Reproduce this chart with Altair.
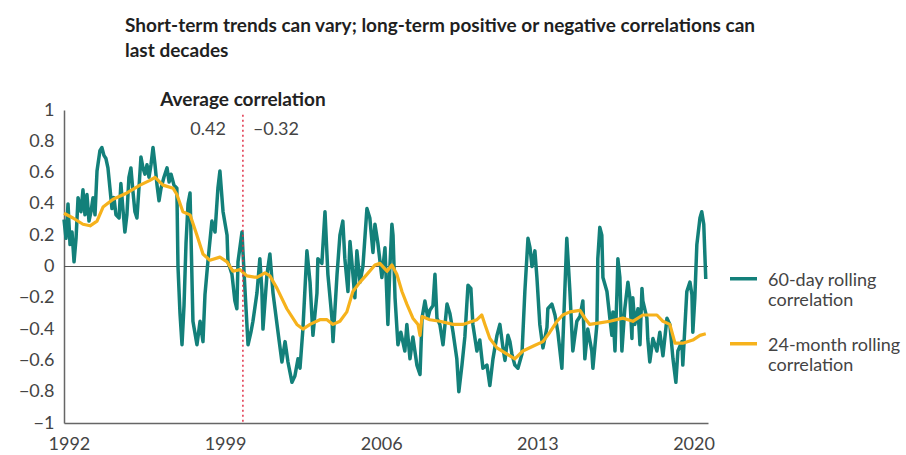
import altair as alt
import pandas as pd

TITLE_LINES = [
    "Short-term trends can vary; long-term positive or negative correlations can",
    "last decades",
]
SERIES = ["60-day rolling correlation", "24-month rolling correlation"]
COLORS = ["#13807a", "#f6b21c"]
X_TICKS = [1992, 1999, 2006, 2013, 2020]
Y_TICKS = [-1, -0.8, -0.6, -0.4, -0.2, 0, 0.2, 0.4, 0.6, 0.8, 1]
X_DOMAIN = [1991.78, 2020.65]

ANNOT_HEADER = "Average correlation"
SPLIT_YEAR = 1999.8
AVG_BEFORE = 0.42
AVG_AFTER = -0.32

day60_year = [
    1991.78, 1991.87, 1991.96, 1992.05, 1992.14, 1992.23, 1992.32, 1992.41, 1992.54, 1992.63,
    1992.72, 1992.81, 1992.90, 1992.99, 1993.08, 1993.17, 1993.26, 1993.39, 1993.48, 1993.57,
    1993.66, 1993.75, 1993.84, 1993.93, 1994.02, 1994.11, 1994.25, 1994.33, 1994.42, 1994.51,
    1994.60, 1994.69, 1994.78, 1994.87, 1994.96, 1995.05, 1995.14, 1995.23, 1995.32, 1995.41,
    1995.50, 1995.59, 1995.68, 1995.77, 1995.86, 1995.95, 1996.04, 1996.13, 1996.26, 1996.40,
    1996.49, 1996.58, 1996.71, 1996.84, 1996.89, 1996.98, 1997.07, 1997.16, 1997.25, 1997.34,
    1997.43, 1997.56, 1997.74, 1997.88, 1998.01, 1998.10, 1998.23, 1998.41, 1998.55, 1998.68,
    1998.77, 1998.91, 1999.09, 1999.13, 1999.31, 1999.44, 1999.53, 1999.58, 1999.76, 1999.80,
    1999.89, 2000.03, 2000.16, 2000.25, 2000.43, 2000.56, 2000.65, 2000.70, 2000.88, 2001.01,
    2001.15, 2001.33, 2001.42, 2001.55, 2001.69, 2001.82, 2002.00, 2002.13, 2002.27, 2002.36,
    2002.49, 2002.67, 2002.81, 2002.94, 2003.12, 2003.16, 2003.34, 2003.48, 2003.61, 2003.79,
    2003.84, 2004.02, 2004.15, 2004.28, 2004.37, 2004.51, 2004.60, 2004.69, 2004.82, 2004.91,
    2005.05, 2005.18, 2005.36, 2005.49, 2005.63, 2005.72, 2005.85, 2006.03, 2006.17, 2006.30,
    2006.39, 2006.48, 2006.53, 2006.62, 2006.75, 2006.88, 2007.06, 2007.15, 2007.29, 2007.42,
    2007.60, 2007.74, 2007.83, 2007.96, 2008.09, 2008.18, 2008.32, 2008.41, 2008.50, 2008.63,
    2008.77, 2008.95, 2009.08, 2009.22, 2009.39, 2009.48, 2009.62, 2009.75, 2009.89, 2010.02,
    2010.11, 2010.29, 2010.42, 2010.56, 2010.74, 2010.87, 2011.01, 2011.19, 2011.32, 2011.46,
    2011.55, 2011.68, 2011.77, 2011.86, 2011.99, 2012.13, 2012.31, 2012.44, 2012.58, 2012.67,
    2012.76, 2012.89, 2012.98, 2013.11, 2013.25, 2013.43, 2013.47, 2013.65, 2013.79, 2013.92,
    2014.10, 2014.23, 2014.32, 2014.46, 2014.59, 2014.77, 2014.91, 2015.04, 2015.13, 2015.26,
    2015.44, 2015.49, 2015.67, 2015.71, 2015.80, 2015.89, 2015.94, 2016.12, 2016.25, 2016.34,
    2016.39, 2016.48, 2016.57, 2016.61, 2016.70, 2016.79, 2016.92, 2017.06, 2017.15, 2017.24,
    2017.28, 2017.37, 2017.51, 2017.60, 2017.69, 2017.73, 2017.91, 2017.95, 2018.04, 2018.18,
    2018.36, 2018.49, 2018.63, 2018.81, 2018.94, 2019.08, 2019.21, 2019.30, 2019.48, 2019.52,
    2019.70, 2019.84, 2019.93, 2019.97, 2020.06, 2020.15, 2020.29, 2020.37, 2020.46, 2020.55,
]
day60_value = [
    0.30, 0.18, 0.40, 0.14, 0.22, 0.03, 0.18, 0.44, 0.35, 0.49,
    0.33, 0.46, 0.29, 0.35, 0.44, 0.33, 0.61, 0.74, 0.76, 0.71,
    0.69, 0.63, 0.50, 0.37, 0.44, 0.33, 0.31, 0.53, 0.37, 0.22,
    0.33, 0.57, 0.63, 0.48, 0.35, 0.31, 0.50, 0.70, 0.63, 0.59,
    0.65, 0.57, 0.65, 0.76, 0.65, 0.52, 0.42, 0.50, 0.57, 0.63,
    0.54, 0.59, 0.52, 0.50, 0.00, -0.30, -0.50, -0.25, 0.15, 0.40,
    0.47, -0.35, -0.50, -0.35, -0.48, -0.18, 0.03, 0.29, 0.22, 0.50,
    0.61, 0.35, 0.20, 0.03, -0.05, -0.22, -0.27, 0.03, 0.22, 0.10,
    -0.14, -0.50, -0.42, -0.35, -0.17, 0.05, -0.15, -0.40, -0.05, 0.08,
    -0.17, -0.37, -0.47, -0.61, -0.48, -0.61, -0.74, -0.70, -0.59, -0.65,
    -0.40, 0.10, -0.10, -0.44, -0.17, 0.05, 0.02, 0.35, -0.05, -0.33,
    -0.48, -0.05, 0.20, 0.29, 0.05, -0.16, 0.16, 0.02, -0.20, 0.10,
    -0.10, 0.00, 0.37, 0.31, 0.09, 0.27, 0.15, -0.07, 0.12, -0.37,
    0.00, 0.27, 0.20, -0.20, -0.50, -0.42, -0.54, -0.37, -0.59, -0.45,
    -0.63, -0.69, -0.33, -0.22, -0.33, -0.28, -0.25, -0.05, -0.33, -0.37,
    -0.50, -0.24, -0.30, -0.42, -0.59, -0.80, -0.63, -0.45, -0.12, -0.14,
    -0.37, -0.54, -0.47, -0.65, -0.63, -0.76, -0.59, -0.44, -0.37, -0.52,
    -0.60, -0.44, -0.48, -0.56, -0.63, -0.65, -0.56, -0.16, 0.18, 0.12,
    0.00, 0.10, -0.07, -0.37, -0.52, -0.39, -0.27, -0.24, -0.31, -0.42,
    -0.65, -0.16, 0.18, -0.16, -0.54, -0.35, -0.32, -0.22, -0.59, -0.40,
    -0.54, -0.65, -0.37, 0.05, 0.25, 0.20, -0.07, -0.16, -0.33, -0.44,
    -0.29, -0.54, -0.16, 0.05, -0.07, -0.54, -0.27, -0.10, -0.20, -0.46,
    -0.20, -0.37, -0.27, -0.50, -0.14, -0.22, -0.33, -0.46, -0.61, -0.46,
    -0.54, -0.42, -0.57, -0.33, -0.37, -0.59, -0.74, -0.54, -0.48, -0.63,
    -0.16, -0.10, -0.18, -0.42, -0.20, 0.14, 0.31, 0.35, 0.27, -0.08,
]

month24_year = [
    1991.78, 1992.18, 1992.63, 1992.95, 1993.26, 1993.53, 1993.98, 1994.60, 1995.19, 1995.63,
    1995.86, 1996.22, 1996.67, 1996.84, 1997.11, 1997.43, 1997.74, 1998.01, 1998.32, 1998.77,
    1999.09, 1999.35, 1999.67, 1999.98, 2000.43, 2000.79, 2001.01, 2001.33, 2001.77, 2002.22,
    2002.49, 2002.81, 2003.25, 2003.57, 2003.84, 2004.15, 2004.46, 2004.73, 2005.05, 2005.36,
    2005.72, 2005.94, 2006.26, 2006.48, 2006.70, 2006.93, 2007.15, 2007.42, 2007.65, 2007.74,
    2007.83, 2008.18, 2008.63, 2009.22, 2009.66, 2010.29, 2010.51, 2010.65, 2010.87, 2011.19,
    2011.64, 2011.99, 2012.35, 2012.80, 2013.25, 2013.56, 2013.88, 2014.14, 2014.46, 2014.91,
    2015.13, 2015.35, 2015.80, 2016.25, 2016.83, 2017.28, 2017.73, 2018.36, 2018.63, 2018.94,
    2019.17, 2019.52, 2019.97, 2020.29, 2020.55,
]
month24_value = [
    0.34, 0.31, 0.27, 0.26, 0.29, 0.38, 0.43, 0.47, 0.52, 0.55,
    0.57, 0.52, 0.50, 0.46, 0.35, 0.33, 0.20, 0.08, 0.04, 0.06,
    0.03, -0.03, -0.02, -0.06, -0.07, -0.04, -0.06, -0.14, -0.27, -0.37,
    -0.40, -0.37, -0.34, -0.34, -0.37, -0.35, -0.29, -0.16, -0.10, -0.05,
    0.01, 0.02, -0.03, 0.01, -0.05, -0.16, -0.24, -0.33, -0.37, -0.44,
    -0.32, -0.34, -0.35, -0.37, -0.37, -0.34, -0.31, -0.37, -0.46, -0.52,
    -0.56, -0.59, -0.54, -0.51, -0.48, -0.42, -0.35, -0.31, -0.29, -0.28,
    -0.33, -0.37, -0.36, -0.35, -0.33, -0.35, -0.31, -0.31, -0.35, -0.37,
    -0.49, -0.49, -0.47, -0.44, -0.43,
]

FONT = "Lato"
AXIS_GREY = "#666666"
TEXT_GREY = "#444444"

df60 = pd.DataFrame({"year": day60_year, "value": day60_value, "series": SERIES[0]})
df24 = pd.DataFrame({"year": month24_year, "value": month24_value, "series": SERIES[1]})

x_scale = alt.Scale(domain=X_DOMAIN, nice=False, zero=False)
y_scale = alt.Scale(domain=[-1, 1], nice=False)
color_scale = alt.Scale(domain=SERIES, range=COLORS)

x_axis = alt.Axis(values=X_TICKS, format="d", title=None, labelPadding=12)
y_axis = alt.Axis(values=Y_TICKS, format=".1~f", title=None, labelPadding=10,
                  labelOverlap=False)

legend = alt.Legend(
    orient="none",
    legendX=664,
    legendY=160,
    title=None,
    padding=0,
    symbolType="M-1,-0.5L1,-0.5",
    symbolSize=729,
    symbolStrokeWidth=3.5,
    labelFont=FONT,
    labelFontSize=18,
    labelColor=TEXT_GREY,
    labelBaseline="alphabetic",
    labelOffset=9,
    rowPadding=25,
    labelLimit=300,
    labelExpr="[slice(datum.label, 0, lastindexof(datum.label, ' ')), slice(datum.label, lastindexof(datum.label, ' ') + 1)]",
)

x_enc = alt.X("year:Q", scale=x_scale, axis=x_axis)
y_enc = alt.Y("value:Q", scale=y_scale, axis=y_axis)

zero_rule = alt.Chart(pd.DataFrame({"value": [0]})).mark_rule(
    color="#555555", strokeWidth=1.2
).encode(y=y_enc)

line60 = alt.Chart(df60).mark_line(strokeWidth=3.5, strokeJoin="round").encode(
    x=x_enc,
    y=y_enc,
    color=alt.Color("series:N", scale=color_scale, legend=legend),
)
line24 = alt.Chart(df24).mark_line(strokeWidth=3.2, strokeJoin="round").encode(
    x=x_enc,
    y=y_enc,
    color=alt.Color("series:N", scale=color_scale, legend=legend),
)

split_df = pd.DataFrame({"year": [SPLIT_YEAR], "value": [0.97], "bottom": [-1.0]})
split_rule = alt.Chart(split_df).mark_rule(
    color="#e03048", strokeWidth=1.5, strokeDash=[2, 3]
).encode(
    x=x_enc,
    y=y_enc,
    y2="bottom:Q",
)

header_df = pd.DataFrame({"year": [SPLIT_YEAR], "value": [1.064], "label": [ANNOT_HEADER]})
header = alt.Chart(header_df).mark_text(
    font=FONT, fontSize=19, fontWeight="bold", color="#222222", baseline="middle", align="center"
).encode(x=x_enc, y=y_enc, text="label:N")

before_df = pd.DataFrame({"year": [SPLIT_YEAR], "value": [0.875], "label": [f"{AVG_BEFORE:.2f}"]})
before = alt.Chart(before_df).mark_text(
    font=FONT, fontSize=18, color=TEXT_GREY, baseline="middle", align="right", dx=-17
).encode(x=x_enc, y=y_enc, text="label:N")

after_df = pd.DataFrame({"year": [SPLIT_YEAR], "value": [0.875],
                         "label": [f"{AVG_AFTER:.2f}".replace("-", "\u2013")]})
after = alt.Chart(after_df).mark_text(
    font=FONT, fontSize=18, color=TEXT_GREY, baseline="middle", align="left", dx=10
).encode(x=x_enc, y=y_enc, text="label:N")

chart = alt.layer(
    zero_rule, line60, line24, split_rule, header, before, after
).properties(
    width=644,
    height=313,
    padding={"left": 64, "top": 110, "right": 198, "bottom": 32},
    autosize=alt.AutoSizeParams(type="none"),
    title=alt.TitleParams(
        text=TITLE_LINES,
        anchor="start",
        frame="group",
        dx=61,
        offset=30,
        font=FONT,
        fontSize=19,
        fontWeight="bold",
        color="#1f1f1f",
        lineHeight=25,
    ),
).configure_view(stroke=None).configure_axis(
    grid=False,
    ticks=False,
    domainColor=AXIS_GREY,
    domainWidth=1.5,
    labelFont=FONT,
    labelFontSize=18,
    labelColor=TEXT_GREY,
).configure_axisY(labelOverlap=False)

chart.save("out.html", embed_options={"renderer": "svg", "actions": False})
